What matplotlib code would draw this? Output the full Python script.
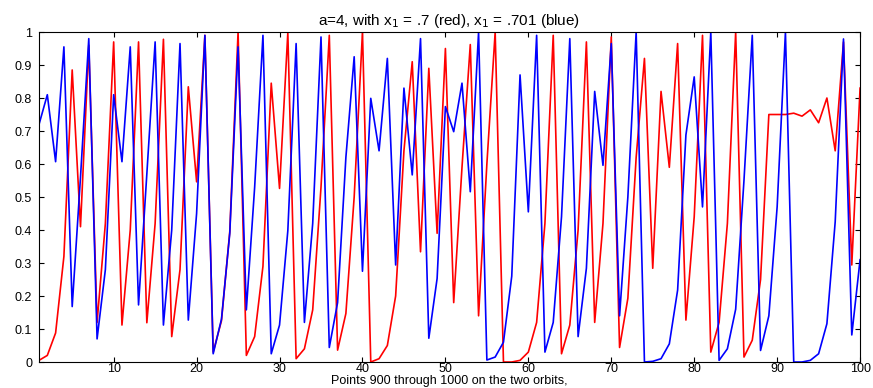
import matplotlib
matplotlib.use("Agg")
import matplotlib.pyplot as plt

plt.rcParams["font.family"] = ["Liberation Sans", "DejaVu Sans"]

# x1 = .7 orbit (red)
redOrbit = [
    0.005, 0.02, 0.088, 0.32, 0.885, 0.41, 0.96, 0.12, 0.42, 0.97,
    0.112, 0.40, 0.97, 0.119, 0.42, 0.978, 0.077, 0.28, 0.834, 0.546,
    0.99, 0.03, 0.125, 0.395, 1.0, 0.02, 0.077, 0.29, 0.845, 0.526,
    0.998, 0.01, 0.04, 0.158, 0.53, 0.99, 0.036, 0.147, 0.50, 1.0,
    0.0, 0.01, 0.05, 0.2, 0.64, 0.91, 0.334, 0.89, 0.39, 0.95,
    0.18, 0.59, 0.962, 0.14, 0.6, 1.0, 0.0, 0.0, 0.005, 0.03,
    0.12, 0.42, 0.99, 0.025, 0.112, 0.4, 0.97, 0.12, 0.42, 0.985,
    0.044, 0.193, 0.62, 0.92, 0.284, 0.82, 0.59, 0.965, 0.127, 0.44,
    0.99, 0.03, 0.12, 0.42, 1.0, 0.015, 0.066, 0.25, 0.75, 0.75,
    0.75, 0.754, 0.745, 0.764, 0.725, 0.8, 0.64, 0.97, 0.294, 0.83,
]

# x1 = .701 orbit (blue)
blueOrbit = [
    0.72, 0.81, 0.607, 0.955, 0.168, 0.56, 0.98, 0.07, 0.28, 0.81,
    0.607, 0.955, 0.173, 0.57, 0.97, 0.112, 0.40, 0.965, 0.127, 0.45,
    0.99, 0.025, 0.13, 0.39, 0.955, 0.158, 0.53, 0.99, 0.025, 0.112,
    0.398, 0.965, 0.12, 0.42, 0.985, 0.044, 0.18, 0.62, 0.925, 0.275,
    0.799, 0.64, 0.92, 0.294, 0.83, 0.567, 0.98, 0.072, 0.253, 0.774,
    0.698, 0.845, 0.516, 1.0, 0.006, 0.015, 0.06, 0.26, 0.87, 0.455,
    0.99, 0.03, 0.12, 0.44, 0.98, 0.077, 0.284, 0.82, 0.596, 0.965,
    0.14, 0.5, 1.0, 0.0, 0.002, 0.01, 0.055, 0.218, 0.688, 0.864,
    0.47, 1.0, 0.005, 0.04, 0.16, 0.55, 0.99, 0.035, 0.14, 0.47,
    1.0, 0.0, 0.0, 0.005, 0.025, 0.116, 0.425, 0.979, 0.082, 0.31,
]

steps = list(range(1, len(redOrbit) + 1))
xTicks = [10, 20, 30, 40, 50, 60, 70, 80, 90, 100]
yTicks = [0, 0.1, 0.2, 0.3, 0.4, 0.5, 0.6, 0.7, 0.8, 0.9, 1]
yTickLabels = ["0", "0.1", "0.2", "0.3", "0.4", "0.5", "0.6", "0.7", "0.8", "0.9", "1"]

fig = plt.figure(figsize=(8.73, 3.88), dpi=100)
ax = fig.add_axes([0.0447, 0.067, 0.9405, 0.8505])

ax.plot(steps, redOrbit, color="#ff0000", linewidth=1.2)
ax.plot(steps, blueOrbit, color="#0000ff", linewidth=1.2)

ax.set_xlim(1, 100)
ax.set_ylim(0, 1)
ax.set_xticks(xTicks)
ax.set_yticks(yTicks)
ax.set_yticklabels(yTickLabels)
ax.tick_params(direction="in", length=3.5, labelsize=9, top=True, right=True)
ax.tick_params(axis="x", pad=1)
ax.tick_params(axis="y", pad=5)
for spine in ax.spines.values():
    spine.set_linewidth(0.8)

ax.set_title("a=4, with x$_1$ = .7 (red), x$_1$ = .701 (blue)", fontsize=11, pad=5)
ax.set_xlabel("Points 900 through 1000 on the two orbits,", fontsize=9)
ax.xaxis.set_label_coords(0.5, -0.038)

fig.savefig("out.png", dpi=100)
